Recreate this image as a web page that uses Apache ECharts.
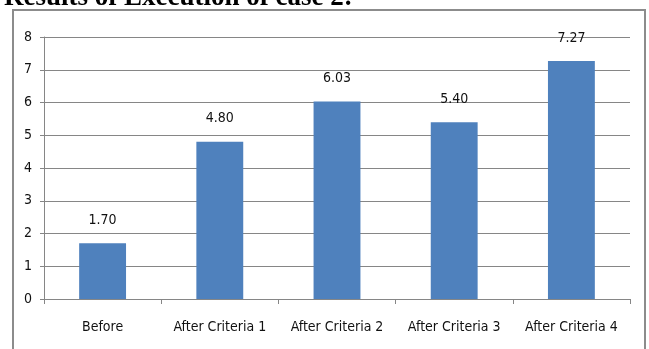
<!DOCTYPE html>
<html>
<head>
<meta charset="utf-8">
<script src="https://cdn.jsdelivr.net/npm/echarts@6/dist/echarts.min.js"></script>
<style>html,body{margin:0;padding:0;background:#fff;}#c{width:649px;height:349px;}</style>
</head>
<body>
<div id="c"></div>
<script>
var categories = ["Before", "After Criteria 1", "After Criteria 2", "After Criteria 3", "After Criteria 4"];
var values = [1.70, 4.80, 6.03, 5.40, 7.27];
var yTicks = [0, 1, 2, 3, 4, 5, 6, 7, 8];
var titleText = "Results of Execution of case 2:";

var FONT = '"DejaVu Sans Condensed", "Liberation Sans Narrow", "Liberation Sans", sans-serif';
var FS = 14;
var chart = echarts.init(document.getElementById('c'), null, {renderer: 'canvas'});
chart.setOption({
  animation: false,
  backgroundColor: '#fff',
  graphic: [
    {type: 'rect', shape: {x: 13, y: 10, width: 632, height: 400}, style: {fill: 'none', stroke: '#8c8c8c', lineWidth: 2}, z: 0},
    {type: 'text', x: 4, y: -2, style: {text: titleText, font: 'bold 27px "Liberation Serif", "Times New Roman", serif', fill: '#000', verticalAlign: 'middle'}, z: 10}
  ],
  grid: {left: 44, right: 19, top: 37, bottom: 50, containLabel: false},
  xAxis: {
    type: 'category',
    data: categories,
    axisLine: {show: true, lineStyle: {color: '#868686', width: 1}},
    axisTick: {show: true, length: 5, alignWithLabel: false, lineStyle: {color: '#868686'}},
    axisLabel: {margin: 21, color: '#111', fontSize: FS, fontFamily: FONT, interval: 0},
    splitLine: {show: false}
  },
  yAxis: {
    type: 'value',
    min: yTicks[0],
    max: yTicks[yTicks.length - 1],
    interval: 1,
    axisLine: {show: true, lineStyle: {color: '#868686', width: 1}},
    axisTick: {show: true, length: 4, lineStyle: {color: '#868686'}},
    axisLabel: {margin: 12, color: '#111', fontSize: FS, fontFamily: FONT},
    splitLine: {show: true, lineStyle: {color: '#868686', width: 1}}
  },
  series: [{
    type: 'bar',
    data: values,
    barWidth: '40%',
    itemStyle: {color: '#4F81BD'},
    label: {
      show: true, position: 'top', distance: 16,
      formatter: function (p) { return p.value.toFixed(2); },
      color: '#111', fontSize: FS, fontFamily: FONT
    }
  }]
});
</script>
</body>
</html>
